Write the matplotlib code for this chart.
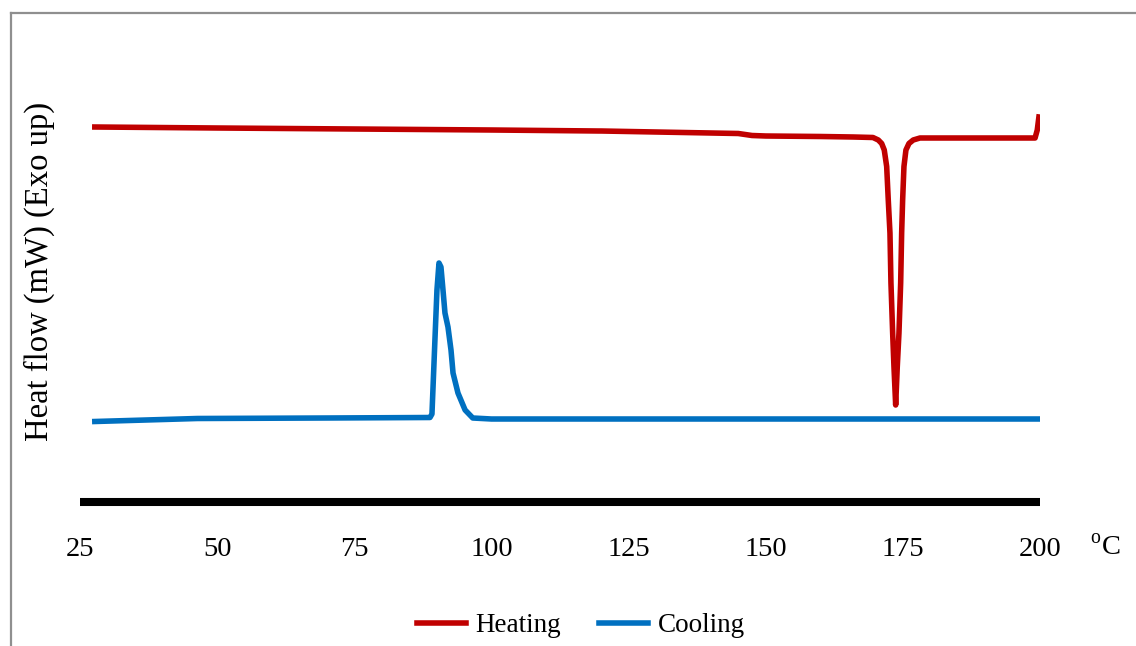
import matplotlib
matplotlib.use("Agg")
import matplotlib.pyplot as plt
from matplotlib.lines import Line2D

plt.rcParams["font.family"] = ["Liberation Serif", "DejaVu Serif"]
plt.rcParams["mathtext.fontset"] = "custom"
plt.rcParams["mathtext.rm"] = "Liberation Serif"

# DSC curves (temperature in degC, heat flow in arbitrary mW)
heat_T = [27.7, 50, 75, 100, 119.5, 120, 130, 140, 145, 147.5, 150, 160, 166,
          169.55, 170.52, 171.14, 171.61, 172.05, 172.34, 172.65, 172.83, 173.14,
          173.38, 173.69, 173.98, 174.29, 174.60, 174.78, 174.96, 175.20, 175.56,
          176.11, 176.89, 178.12, 190, 199.1, 199.5, 199.8]
heat_mW = [7.50, 7.48, 7.46, 7.44, 7.42, 7.42, 7.40, 7.38, 7.37, 7.33, 7.32, 7.31, 7.30,
           7.29, 7.24, 7.17, 7.04, 6.71, 6.04, 5.38, 4.38, 3.38,
           2.70, 1.94, 2.70, 3.38, 4.38, 5.38, 6.04, 6.71, 7.04,
           7.17, 7.24, 7.28, 7.28, 7.28, 7.44, 7.70]

cool_T = [27.7, 46.4, 70, 88.8, 89.16, 89.7, 90.07, 90.44, 90.8, 91.17, 91.53,
          92.08, 92.63, 93.0, 93.9, 95.2, 96.6, 100, 150, 200]
cool_mW = [1.61, 1.67, 1.68, 1.69, 1.76, 3.24, 4.24, 4.78, 4.70, 4.24, 3.78,
           3.50, 3.04, 2.58, 2.18, 1.84, 1.68, 1.66, 1.66, 1.66]

xticks = [25, 50, 75, 100, 125, 150, 175, 200]

RED = "#C00000"
BLUE = "#0070C0"
W, H = 1136, 646

fig = plt.figure(figsize=(W / 100, H / 100), dpi=100)
ax = fig.add_axes([80 / W, 1 - 502 / H, 960 / W, 462 / H])

ax.plot(heat_T, heat_mW, color=RED, lw=4, label="Heating", solid_joinstyle="round")
ax.plot(cool_T, cool_mW, color=BLUE, lw=4, label="Cooling", solid_joinstyle="round")

ax.set_xlim(25, 200)
ax.set_ylim(0, 9.24)
ax.set_xticks(xticks)
ax.set_yticks([])
ax.tick_params(axis="x", length=0, pad=25, labelsize=20.5)
for s in ["left", "top", "right"]:
    ax.spines[s].set_visible(False)
ax.spines["bottom"].set_linewidth(5.8)
ax.spines["bottom"].set_color("black")
ax.spines["bottom"].set_capstyle("butt")

fig.text(39 / W, 1 - 271 / H, "Heat flow (mW) (Exo up)", fontsize=23.5,
         rotation=90, ha="center", va="center")

fig.text(1090 / W, 1 - 555 / H, r"$^{\mathrm{o}}$C", fontsize=20.5,
         ha="left", va="baseline")

fig.legend(loc="center", bbox_to_anchor=(581 / W, 1 - 626 / H), ncol=2,
           frameon=False, fontsize=19.5, handlelength=1.8, handletextpad=0.35,
           columnspacing=1.4)

# grey frame of the chart area
grey = "#8f8f8f"
fig.add_artist(Line2D([10.5 / W, 1], [1 - 13 / H, 1 - 13 / H], color=grey, lw=1.6,
                      transform=fig.transFigure))
fig.add_artist(Line2D([10.5 / W, 10.5 / W], [0, 1 - 13 / H], color=grey, lw=1.6,
                      transform=fig.transFigure))

fig.savefig("out.png", dpi=100)
